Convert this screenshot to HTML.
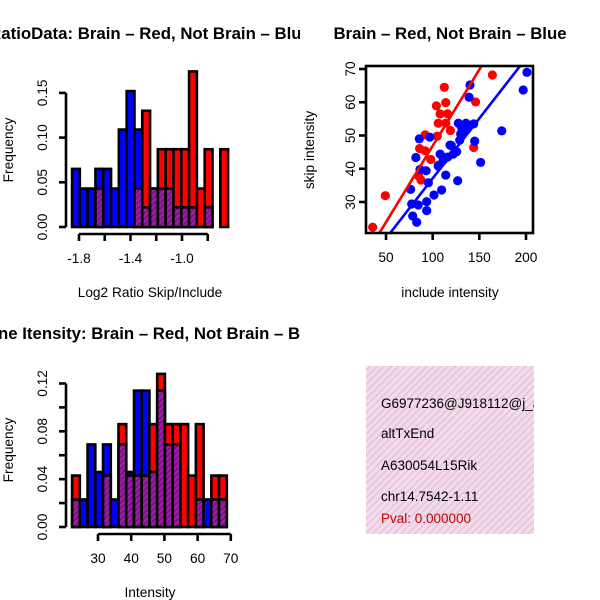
<!DOCTYPE html>
<html><head><meta charset="utf-8"><style>
html,body{margin:0;padding:0;background:#fff;}
svg{display:block;font-family:"Liberation Sans",sans-serif;}
</style></head><body>
<svg id="chart" width="600" height="600" viewBox="0 0 600 600" xmlns="http://www.w3.org/2000/svg">
<defs>
<pattern id="hatch" width="4" height="4" patternUnits="userSpaceOnUse" patternTransform="rotate(45)">
<rect width="4" height="4" fill="#9a1ea6"/><rect width="1.5" height="4" fill="#7a1080"/>
</pattern>
<pattern id="pinkhatch" width="5" height="5" patternUnits="userSpaceOnUse" patternTransform="rotate(45)">
<rect width="5" height="5" fill="#f8d8f2"/><rect width="1.6" height="5" fill="#dccccc"/>
</pattern>
<clipPath id="c1"><rect x="0" y="0" width="300" height="300"/></clipPath>
<clipPath id="c3"><rect x="0" y="300" width="300" height="300"/></clipPath>
<clipPath id="c2"><rect x="366" y="66" width="167" height="167"/></clipPath>
<clipPath id="c4"><rect x="366" y="366" width="168" height="168"/></clipPath>
</defs>
<g id="p1" clip-path="url(#c1)"></g>
<g id="p2"></g>
<g id="p3" clip-path="url(#c3)"></g>
<g id="p4">
<rect x="366" y="366" width="168" height="168" fill="url(#pinkhatch)"/>
<g clip-path="url(#c4)" font-size="13.5">
<text x="381" y="408">G6977236@J918112@j_at</text>
<text x="381" y="438">altTxEnd</text>
<text x="381" y="470">A630054L15Rik</text>
<text x="381" y="501">chr14.7542-1.11</text>
<text x="381" y="523" fill="#c00000">Pval: 0.000000</text>
</g>
</g>
</svg>
<script>
// ---- Ratio histogram data ----
const ratioBinStart = -1.854;
const ratioBinWidth = 0.0606;
const ratioBlue = [0.065,0.043,0.043,0.065,0.065,0.043,0.109,0.152,0.109,0.022,0.043,0.043,0.043,0.022,0.022,0.022,0,0.022,0,0];
const ratioRed  = [0,0,0,0.043,0,0,0,0,0.043,0.130,0.043,0.087,0.087,0.087,0.087,0.174,0.043,0.087,0,0.087];
const ratioXTicks = [-1.8,-1.6,-1.4,-1.2,-1.0,-0.8];
const ratioXLabels = ["-1.8","","-1.4","","-1.0",""];
const ratioYTicks = [0,0.05,0.10,0.15];
const ratioYLabels = ["0.00","0.05","0.10","0.15"];
// ---- Intensity histogram data ----
const intBinStart = 22.2;
const intBinWidth = 2.33;
const intBlue = [0.023,0.023,0.069,0.046,0.069,0.023,0.069,0.046,0.114,0.114,0.046,0.114,0.069,0.069,0,0,0.023,0.023,0.023,0.023];
const intRed  = [0.043,0,0,0,0.043,0,0.086,0.043,0.043,0.043,0.086,0.128,0.086,0.086,0.086,0.043,0.086,0,0.043,0.043];
const intXTicks = [30,40,50,60,70];
const intYTicks = [0,0.02,0.04,0.06,0.08,0.10,0.12];
const intYLabels = ["0.00","","0.04","","0.08","","0.12"];
// ---- Scatter data ----
const redX = [35.7,49.3,164,112.5,114,104,146,108,116,106,114,119,92,105,86,92,98,144,85,87.5,106];
const redY = [22.4,31.9,68.2,64.5,59.9,58.9,60.1,56.5,56.5,53.7,53.7,51.5,50.2,49.8,46.1,45.4,42.8,46.4,37.8,36.6,41.1];
const blueX = [201,197,140,139,127.5,135.7,144,133,129,145,174,85.7,97,118.6,125.7,108,111.4,106,114,82,93,86.4,126.8,95.4,76.4,109.6,101.4,93.6,77.5,84.6,93.6,78.6,82.9,151.4,122,131,137,130,120,116];
const blueY = [69,63.7,65.2,61.5,53.7,53.7,53.5,51.7,48.6,48.3,51.4,49,49.5,47.1,45.1,44.4,42.6,40.8,38.1,43.4,39.4,39.8,36.4,35.8,33.8,33.6,32.1,30.1,29.4,29.1,27.4,25.8,23.9,41.9,44.4,52.5,52,50.5,47,43.5];
const redFit = [0.96,0.459];
const blueFit = [1.0,0.361];
const scXTicks = [50,100,150,200];
const scYTicks = [30,40,50,60,70];

const NS="http://www.w3.org/2000/svg";
const FS=13.7;
function mk(parent,tag,attrs,txt){const e=document.createElementNS(NS,tag);for(const k in attrs)e.setAttribute(k,attrs[k]);if(txt!==undefined)e.textContent=txt;parent.appendChild(e);return e;}

function histogram(g,o){
  const sx=v=>o.x0+(v-o.d0)*o.kx, sy=v=>o.y0-v*o.ky;
  o.blue.forEach((b,i)=>{
    const r=o.red[i];
    const x1=sx(o.binStart+i*o.binWidth), x2=sx(o.binStart+(i+1)*o.binWidth);
    const mx=Math.max(b,r), mn=Math.min(b,r);
    if(mx>0){
      const el=mk(g,'rect',{x:x1,y:sy(mx),width:x2-x1,height:sy(0)-sy(mx),fill:b>=r?'#0000ff':'#ff0000',stroke:'#000','stroke-width':2.6});
      
      
    }
    if(mn>0){
      const el=mk(g,'rect',{x:x1,y:sy(mn),width:x2-x1,height:sy(0)-sy(mn),fill:'url(#hatch)',stroke:'#000','stroke-width':2.6});
      
      
    }
  });
  const ya=mk(g,'g',{});
  
  
  mk(ya,'line',{x1:o.yAxisX,x2:o.yAxisX,y1:sy(o.yTicks[0]),y2:sy(o.yTicks[o.yTicks.length-1]),stroke:'#000','stroke-width':2.6});
  o.yTicks.forEach((t,i)=>{
    mk(ya,'line',{x1:o.yAxisX-7,x2:o.yAxisX,y1:sy(t),y2:sy(t),stroke:'#000','stroke-width':2.6});
    if(o.yLabels[i]){const tx=mk(ya,'text',{x:0,y:0,'font-size':FS,'text-anchor':'middle',transform:`translate(${o.yAxisX-19},${sy(t)}) rotate(-90)`},o.yLabels[i]);
      
      }
  });
  const xa=mk(g,'g',{});
  
  
  mk(xa,'line',{x1:sx(o.xTicks[0]),x2:sx(o.xTicks[o.xTicks.length-1]),y1:o.xAxisY,y2:o.xAxisY,stroke:'#000','stroke-width':2.6});
  o.xTicks.forEach((t,i)=>{
    mk(xa,'line',{x1:sx(t),x2:sx(t),y1:o.xAxisY,y2:o.xAxisY+7,stroke:'#000','stroke-width':2.6});
    if(o.xLabels[i]){const tx=mk(xa,'text',{x:sx(t),y:o.xAxisY+29,'font-size':FS,'text-anchor':'middle'},o.xLabels[i]);
      
      }
  });
}

const p1=document.getElementById('p1');
histogram(p1,{x0:79,d0:-1.8,kx:128.75,y0:227,ky:894,binStart:ratioBinStart,binWidth:ratioBinWidth,blue:ratioBlue,red:ratioRed,
  xTicks:ratioXTicks,xLabels:ratioXLabels,yTicks:ratioYTicks,yLabels:ratioYLabels,yAxisX:66,xAxisY:234});
let t=mk(p1,'text',{x:150,y:39,'font-size':16.8,'font-weight':'bold','text-anchor':'middle'},'RatioData: Brain \u2013 Red, Not Brain \u2013 Blue');


t=mk(p1,'text',{x:150,y:297,'font-size':FS,'text-anchor':'middle'},'Log2 Ratio Skip/Include');


t=mk(p1,'text',{x:0,y:0,'font-size':FS,'text-anchor':'middle',transform:'translate(13,150) rotate(-90)'},'Frequency');



const p3=document.getElementById('p3');
histogram(p3,{x0:98,d0:30,kx:3.32,y0:527,ky:1196,binStart:intBinStart,binWidth:intBinWidth,blue:intBlue,red:intRed,
  xTicks:intXTicks,xLabels:intXTicks.map(String),yTicks:intYTicks,yLabels:intYLabels,yAxisX:66,xAxisY:534});
t=mk(p3,'text',{x:150,y:339,'font-size':16.8,'font-weight':'bold','text-anchor':'middle'},'Gene Itensity: Brain \u2013 Red, Not Brain \u2013 Blue');


t=mk(p3,'text',{x:150,y:597,'font-size':FS,'text-anchor':'middle'},'Intensity');


t=mk(p3,'text',{x:0,y:0,'font-size':FS,'text-anchor':'middle',transform:'translate(13,450) rotate(-90)'},'Frequency');



const p2=document.getElementById('p2');
const sx2=v=>386+(v-50)*0.9333, sy2=v=>69+(70-v)*3.325;
const clipG=mk(p2,'g',{'clip-path':'url(#c2)'});
redX.forEach((x,i)=>{const c=mk(clipG,'circle',{cx:sx2(x),cy:sy2(redY[i]),r:4.6,fill:'#ff0000'});
  
  });
blueX.forEach((x,i)=>{const c=mk(clipG,'circle',{cx:sx2(x),cy:sy2(blueY[i]),r:4.6,fill:'#0000ff'});
  
  });
let l=mk(clipG,'line',{x1:sx2(0),y1:sy2(redFit[0]),x2:sx2(250),y2:sy2(redFit[0]+redFit[1]*250),stroke:'#ff0000','stroke-width':2.6});


l=mk(clipG,'line',{x1:sx2(0),y1:sy2(blueFit[0]),x2:sx2(250),y2:sy2(blueFit[0]+blueFit[1]*250),stroke:'#0000ff','stroke-width':2.6});


const box=mk(p2,'rect',{x:366,y:66,width:167,height:167,fill:'none',stroke:'#000','stroke-width':2.6});


scXTicks.forEach(v=>{mk(p2,'line',{x1:sx2(v),x2:sx2(v),y1:233,y2:240,stroke:'#000','stroke-width':2.6});
  const tx=mk(p2,'text',{x:sx2(v),y:262,'font-size':FS,'text-anchor':'middle'},String(v));
  
  });
scYTicks.forEach(v=>{mk(p2,'line',{x1:359,x2:366,y1:sy2(v),y2:sy2(v),stroke:'#000','stroke-width':2.6});
  const tx=mk(p2,'text',{x:0,y:0,'font-size':FS,'text-anchor':'middle',transform:`translate(355,${sy2(v)}) rotate(-90)`},String(v));
  
  });
t=mk(p2,'text',{x:450,y:39,'font-size':16.8,'font-weight':'bold','text-anchor':'middle'},'Brain \u2013 Red, Not Brain \u2013 Blue');


t=mk(p2,'text',{x:450,y:297,'font-size':FS,'text-anchor':'middle'},'include intensity');


t=mk(p2,'text',{x:0,y:0,'font-size':FS,'text-anchor':'middle',transform:'translate(314,150) rotate(-90)'},'skip intensity');


</script>
</body></html>
